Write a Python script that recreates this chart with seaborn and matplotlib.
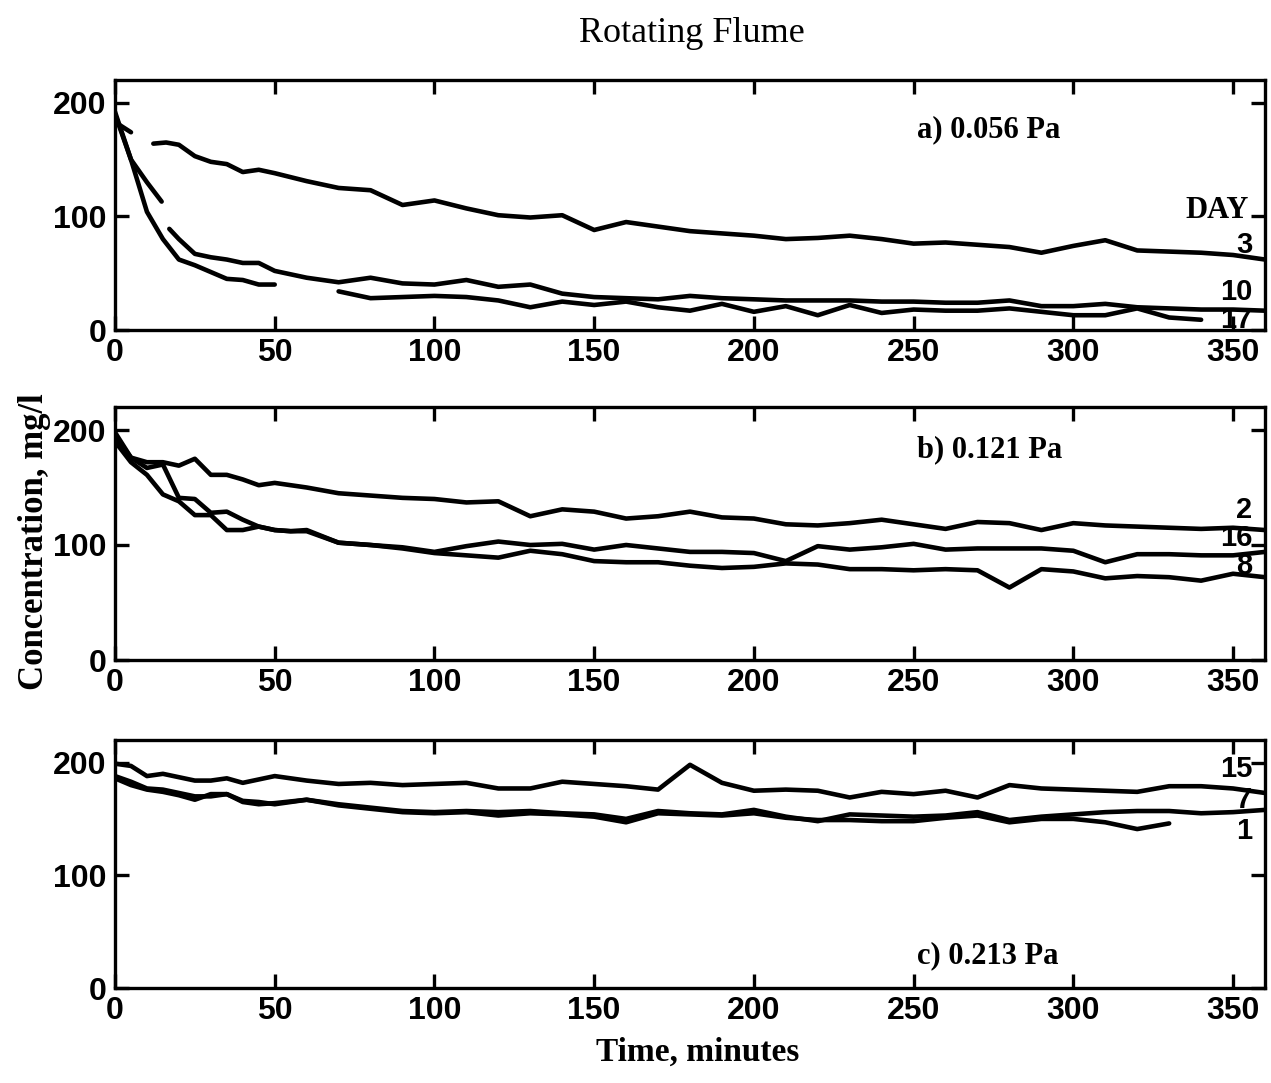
import numpy as np
import pandas as pd
import matplotlib
matplotlib.use("Agg")
import matplotlib.pyplot as plt
import seaborn as sns

nan = np.nan

# ---------------- data ----------------
x_ticks = [0, 50, 100, 150, 200, 250, 300, 350]
y_ticks = [0, 100, 200]
grid60 = list(range(60, 361, 10))

# panel a) 0.056 Pa
day3_a_t = [0, 5, nan, 12, 16, 20, 25, 30, 35, 40, 45, 50] + grid60
day3_a_c = [183, 174, nan, 164, 165, 163, 153, 148, 146, 139, 141, 138,
            131, 125, 123, 110, 114, 107, 101, 99, 101, 88, 95, 91, 87, 85, 83, 80,
            81, 83, 80, 76, 77, 75, 73, 68, 74, 79, 70, 69, 68, 66, 62]
day10_a_t = [0, 5, 10, 14.6, nan, 17, 20, 25, 30, 35, 40, 45, 50] + grid60
day10_a_c = [190, 150, 130, 113, nan, 89, 80, 67, 64, 62, 59, 59, 52,
             46, 42, 46, 41, 40, 44, 38, 40, 32, 29, 28, 27, 30, 28, 27, 26, 26,
             26, 25, 25, 24, 24, 26, 21, 21, 23, 20, 19, 18, 18, 17]
day17_a_t = [0, 5, 10, 15, 20, 25, 30, 35, 40, 45, 50, nan] + list(range(70, 341, 10))
day17_a_c = [192, 150, 104, 80, 62, 57, 51, 45, 44, 40, 40, nan,
             34, 28, 29, 30, 29, 26, 20, 25, 22, 25, 20, 17, 23, 16, 21, 13, 22,
             15, 18, 17, 17, 19, 16, 13, 13, 19, 11, 9]

# panel b) 0.121 Pa
day2_b_t = [0, 5, 10, 15, 20, 25, 30, 35, 40, 45, 50] + grid60
day2_b_c = [198, 176, 172, 172, 169, 175, 161, 161, 157, 152, 154,
            150, 145, 143, 141, 140, 137, 138, 125, 131, 129,
            123, 125, 129, 124, 123, 118, 117, 119, 122, 118,
            114, 120, 119, 113, 119, 117, 116, 115, 114, 115, 113]
day16_b_t = [0, 5, 10, 15, 20, 25, 30, 35, 40, 45, 50, 55] + grid60
day16_b_c = [195, 176, 167, 170, 141, 140, 128, 129, 122, 116, 113, 112,
             113, 102, 100, 98, 94, 99, 103, 100, 101, 96,
             100, 97, 94, 94, 93, 86, 99, 96, 98, 101,
             96, 97, 97, 97, 95, 85, 92, 92, 91, 91, 94]
day8_b_t = [0, 5, 10, 15, 20, 25, 30, 35, 40, 45, 50, 55] + grid60
day8_b_c = [190, 172, 161, 144, 138, 126, 126, 113, 113, 116, 113, 112,
            112, 102, 100, 97, 93, 91, 89, 95, 92, 86,
            85, 85, 82, 80, 81, 84, 83, 79, 79, 78,
            79, 78, 63, 79, 77, 71, 73, 72, 69, 75, 72]

# panel c) 0.213 Pa
day15_c_t = [0, 5, 10, 15, 20, 25, 30, 35, 40, 45, 50] + grid60
day15_c_c = [199, 197, 188, 190, 187, 184, 184, 186, 182, 185, 188,
             184, 181, 182, 180, 181, 182, 177, 177, 183, 181,
             179, 176, 198, 182, 175, 176, 175, 169, 174, 172,
             175, 169, 180, 177, 176, 175, 174, 179, 179, 177, 173]
day7_c_t = [0, 5, 10, 15, 20, 25, 30, 35, 40, 45, 50] + grid60
day7_c_c = [188, 183, 177, 176, 173, 170, 170, 172, 166, 165, 163,
            167, 163, 160, 157, 156, 157, 156, 157, 155, 154,
            150, 157, 155, 154, 158, 152, 148, 154, 153, 152,
            153, 156, 149, 152, 154, 156, 157, 157, 155, 156, 158]
day1_c_t = [0, 5, 10, 15, 20, 25, 30, 35, 40, 45, 50] + list(range(60, 331, 10))
day1_c_c = [186, 180, 176, 174, 171, 167, 172, 172, 165, 163, 164,
            167, 162, 159, 156, 155, 156, 153, 155, 154, 152,
            147, 155, 154, 153, 155, 151, 149, 149, 148, 148,
            151, 153, 147, 150, 150, 147, 141, 146]

panels = [
    dict(label="a) 0.056 Pa", label_y=176,
         series=[(day3_a_t, day3_a_c), (day10_a_t, day10_a_c), (day17_a_t, day17_a_c)],
         days=[("3", 75), ("10", 33), ("17", 9)], day_header=True),
    dict(label="b) 0.121 Pa", label_y=183,
         series=[(day2_b_t, day2_b_c), (day16_b_t, day16_b_c), (day8_b_t, day8_b_c)],
         days=[("2", 130), ("16", 106), ("8", 82)], day_header=False),
    dict(label="c) 0.213 Pa", label_y=29,
         series=[(day15_c_t, day15_c_c), (day7_c_t, day7_c_c), (day1_c_t, day1_c_c)],
         days=[("15", 194), ("7", 167), ("1", 139)], day_header=False),
]

# ---------------- style ----------------
sns.set_theme(style="ticks")
plt.rcParams["font.family"] = ["Liberation Sans", "DejaVu Sans"]
plt.rcParams["text.color"] = "black"
serif = ["Liberation Serif", "DejaVu Serif"]

W, H = 1271, 1083
fig = plt.figure(figsize=(W / 100, H / 100), dpi=100)
boxes = [(80, 330), (407, 660), (740, 988)]
left, right = 115, 1265


def segments(t, c):
    df = pd.DataFrame({"t": t, "c": c})
    grp = df["t"].isna().cumsum()
    for _, g in df.dropna().groupby(grp[df["t"].notna()]):
        yield g


for p, (top, bot) in zip(panels, boxes):
    ax = fig.add_axes([left / W, 1 - bot / H, (right - left) / W, (bot - top) / H])
    for t, c in p["series"]:
        for g in segments(t, c):
            sns.lineplot(data=g, x="t", y="c", ax=ax, color="black", lw=3.3,
                         estimator=None, sort=False, legend=False)
    ax.set_xlim(0, 360)
    ax.set_ylim(0, 220)
    ax.set_xticks(x_ticks)
    ax.set_yticks(y_ticks)
    ax.set_xlabel("")
    ax.set_ylabel("")
    ax.tick_params(direction="in", length=10, width=2.4, top=True, right=True,
                   labelsize=23, pad=6, colors="black")
    for lab in ax.get_xticklabels() + ax.get_yticklabels():
        lab.set_fontweight("bold")
    for s in ax.spines.values():
        s.set_linewidth(2.4)
        s.set_color("black")
    ax.text(251, p["label_y"], p["label"], family=serif, fontweight="bold",
            fontsize=22, va="center", ha="left", color="black")
    for txt, yv in p["days"]:
        ax.text(356, yv, txt, fontsize=21, fontweight="bold", va="center",
                ha="right", color="black")
    if p["day_header"]:
        ax.text(355, 105, "DAY", family=serif, fontweight="bold", fontsize=22,
                va="center", ha="right", color="black")

fig.text(692 / W, 1 - 33 / H, "Rotating Flume", family=serif, fontsize=26,
         ha="center", va="center", color="black")
fig.text(698 / W, 1 - 1052 / H, "Time, minutes", family=serif, fontsize=24,
         fontweight="bold", ha="center", va="center", color="black")
fig.text(35 / W, 1 - 542 / H, "Concentration, mg/l", family=serif, fontsize=25,
         fontweight="bold", ha="center", va="center", rotation=90, color="black")

fig.savefig("out.png", dpi=100, facecolor="white")
